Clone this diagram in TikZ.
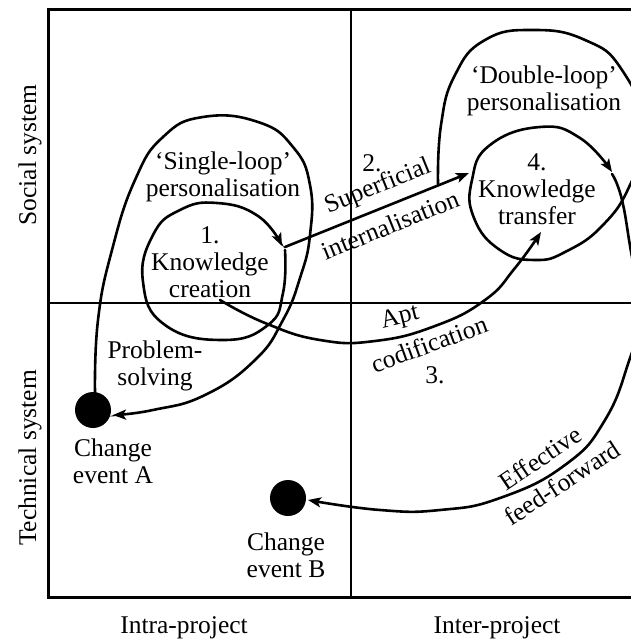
\documentclass[tikz,border=0pt]{standalone}
\usepackage{fontspec}
\setmainfont{Liberation Serif}
\usetikzlibrary{arrows.meta}
\begin{document}
\begin{tikzpicture}[x=1pt,y=-1pt,
  lbl/.style={font=\fontsize{25.5}{27}\selectfont, align=center, inner sep=0pt},
  curve/.style={line width=2.6pt, line cap=round},
  arr/.style={curve, -{Stealth[length=13pt,width=10pt,inset=3pt]}},
  dot/.style={circle, fill=black, minimum size=36pt, inner sep=0pt}]
\useasboundingbox (0,0) rectangle (631,642);
\clip (0,0) rectangle (631,642);
% frame
\draw[line width=3pt] (48,10) rectangle (660,597);
\draw[line width=2pt] (351,10) -- (351,597);
\draw[line width=2pt] (48,303) -- (660,303);
% dots
\node[dot] (A) at (93,410) {};
\node[dot] (B) at (288,498) {};
% labels
\node[lbl] (ceA) at (113,461) {Change\\event A};
\node[lbl] (ceB) at (286,555) {Change\\event B};
\node[lbl] (ps) at (155,366) {Problem-\\solving};
\node[lbl] (sl) at (223,177) {`Single-loop'\\personalisation};
\node[lbl] (kc) at (210,262) {1.\\Knowledge\\creation};
\node[lbl] (dl) at (544,91) {`Double-loop'\\personalisation};
\node[lbl] (kt) at (537,189) {4.\\Knowledge\\transfer};
\node[lbl] (n2) at (372,163) {2.};
\node[lbl, rotate=22] (sup) at (378,187) {Superficial};
\node[lbl, rotate=22] (int) at (390,225) {internalisation};
\node[lbl, rotate=14] (apt) at (400,318) {Apt};
\node[lbl, rotate=20] (cod) at (429,344) {codification};
\node[lbl] (n3) at (435,375) {3.};
\node[lbl, rotate=34] (eff) at (540,458) {Effective};
\node[lbl, rotate=33] (ff) at (562,483) {feed-forward};
\node[lbl, rotate=90] (soc) at (30,155) {Social system};
\node[lbl, rotate=90] (tec) at (30,458) {Technical system};
\node[lbl] (intra) at (184,628) {Intra-project};
\node[lbl] (inter) at (497,628) {Inter-project};
% single-loop outer / problem-solving
\draw[arr] plot[smooth, tension=0.8] coordinates {(95,393) (98,320) (112,250) (135,180) (163,137) (203,117) (258,122) (293,147) (310,185) (310,235) (300,278) (283,320) (255,360) (205,395) (153,410) (113,415)};
% inner loop 1
\draw[arr] plot[smooth, tension=0.8] coordinates {(285,250) (283,293) (268,325) (223,340) (165,325) (143,282) (153,235) (180,210) (217,203) (258,216) (282,246)};
% superficial internalisation
\coordinate (s0) at (285,247);
\coordinate (s1) at (469,173);
\draw[arr] (s0) -- (s1);
% apt codification
\draw[arr] plot[smooth, tension=0.8] coordinates {(220,300) (265,323) (320,340) (375,341) (435,326) (485,300) (515,268) (541,232)};
% double loop + circle 4
\draw[arr] plot[smooth, tension=0.8] coordinates {(438,184) (441,125) (455,75) (485,40) (533,30) (585,40) (622,70) (646,132) (630,185) (603,225) (567,251) (535,260) (500,250) (474,218) (472,180) (490,145) (540,127) (580,138) (612,172)};
% effective feed-forward
\draw[arr] plot[smooth, tension=0.8] coordinates {(612,174) (622,200) (632,257) (643,310) (630,358) (605,420) (565,465) (500,498) (440,510) (380,510) (308,500)};
\end{tikzpicture}
\end{document}
